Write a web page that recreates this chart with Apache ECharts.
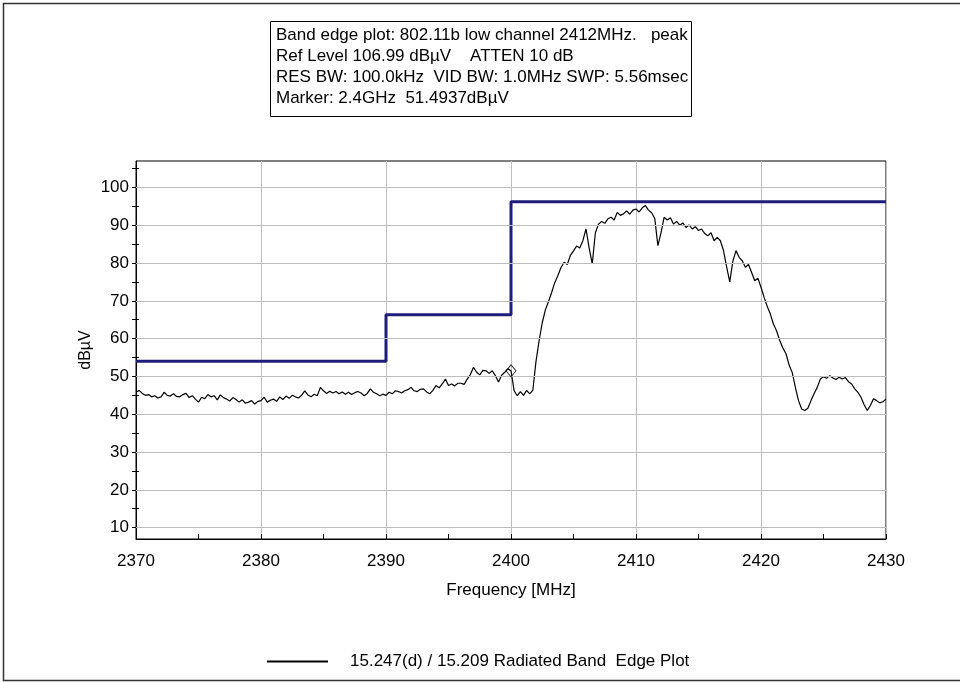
<!DOCTYPE html>
<html>
<head>
<meta charset="utf-8">
<title>Radiated Band Edge Plot</title>
<script src="https://cdn.jsdelivr.net/npm/echarts@6/dist/echarts.min.js"></script>
<style>
  html, body { margin: 0; padding: 0; background: #ffffff; }
  #chart { width: 960px; height: 683px; }
</style>
</head>
<body>
<div id="chart"></div>
<script>
// Analyzer sweep: 2370–2430 MHz, one reading every 0.25 MHz
const SWEEP_START_MHZ = 2370;
const SWEEP_STEP_MHZ = 0.25;

// Measured level (dBµV), four readings per MHz
const traceLevels = [
  45.8, 46.3, 45.5, 45.0,   // 2370
  45.2, 44.6, 44.9, 44.3,   // 2371
  44.6, 45.8, 45.0, 44.8,   // 2372
  45.4, 44.7, 44.6, 45.2,   // 2373
  45.5, 44.4, 44.9, 44.0,   // 2374
  43.2, 44.5, 44.1, 45.2,   // 2375
  44.6, 44.9, 43.8, 45.1,   // 2376
  44.4, 44.0, 43.5, 44.4,   // 2377
  43.9, 43.2, 43.8, 42.9,   // 2378
  43.2, 43.6, 42.7, 43.4,   // 2379
  43.6, 44.5, 43.2, 43.7,   // 2380
  44.0, 43.4, 44.6, 43.9,   // 2381
  44.8, 44.2, 45.0, 44.6,   // 2382
  44.3, 45.0, 46.2, 45.1,   // 2383
  44.6, 45.3, 44.9, 47.1,   // 2384
  46.2, 45.5, 46.1, 45.6,   // 2385
  46.0, 45.4, 45.9, 45.3,   // 2386
  45.8, 45.2, 45.7, 46.0,   // 2387
  45.6, 44.9, 45.5, 46.7,   // 2388
  45.8, 45.4, 44.9, 45.3,   // 2389
  45.0, 45.8, 45.4, 46.2,   // 2390
  46.0, 45.6, 46.2, 46.5,   // 2391
  47.1, 46.2, 46.0, 46.6,   // 2392
  46.7, 45.9, 45.4, 46.3,   // 2393
  47.6, 47.0, 48.0, 49.3,   // 2394
  47.6, 48.0, 47.5, 48.2,   // 2395
  48.2, 47.9, 49.3, 50.5,   // 2396
  52.4, 51.1, 50.4, 51.6,   // 2397
  51.5, 50.8, 51.5, 50.2,   // 2398
  48.5, 50.3, 51.1, 52.0,   // 2399
  51.5, 46.2, 44.9, 46.0,   // 2400
  45.0, 46.3, 45.4, 46.4,   // 2401
  54.0, 59.5, 64.2, 67.6,   // 2402
  69.8, 72.2, 74.8, 76.7,   // 2403
  78.8, 80.2, 79.6, 82.0,   // 2404
  83.2, 84.5, 84.0, 85.9,   // 2405
  89.0, 84.0, 79.8, 88.0,   // 2406
  90.3, 91.0, 90.5, 91.7,   // 2407
  92.1, 91.4, 93.4, 92.6,   // 2408
  93.0, 93.8, 92.9, 94.0,   // 2409
  94.3, 93.5, 94.6, 95.2,   // 2410
  94.0, 93.3, 91.8, 84.6,   // 2411
  88.0, 92.1, 91.4, 92.0,   // 2412
  90.3, 91.0, 90.0, 90.6,   // 2413
  89.4, 90.1, 89.0, 89.6,   // 2414
  88.6, 89.0, 87.8, 87.2,   // 2415
  88.0, 85.9, 86.8, 85.9,   // 2416
  83.3, 79.0, 75.0, 80.5,   // 2417
  83.3, 81.5, 80.6, 78.9,   // 2418
  79.6, 77.5, 75.3, 76.0,   // 2419
  73.6, 70.9, 68.5, 66.5,   // 2420
  63.8, 62.0, 59.5, 57.5,   // 2421
  56.0, 53.0, 51.0, 47.1,   // 2422
  43.6, 41.4, 41.0, 41.6,   // 2423
  43.6, 45.5, 47.1, 49.3,   // 2424
  49.9, 49.5, 50.2, 49.6,   // 2425
  49.2, 49.8, 49.3, 49.7,   // 2426
  48.6, 48.0, 46.7, 45.8,   // 2427
  44.5, 42.5, 41.0, 42.3,   // 2428
  44.1, 43.6, 43.0, 43.3,   // 2429
  44.0                      // 2430
];

// Stepped limit line
const limitFreqs  = [2370, 2390, 2390, 2400, 2400, 2430];
const limitLevels = [54.0, 54.0, 66.3, 66.3, 96.2, 96.2];

// Analyzer marker
const markerFreq = 2400;
const markerLevel = 51.4937;

// Axis ticks and range (reference level 106.99 dBµV, 100 dB span)
const xTickValues = [2370, 2380, 2390, 2400, 2410, 2420, 2430];
const yLabelValues = [10, 20, 30, 40, 50, 60, 70, 80, 90, 100];
const yTickValues = [10, 15, 20, 25, 30, 35, 40, 45, 50, 55, 60, 65, 70, 75, 80, 85, 90, 95, 100, 105];
const REF_LEVEL = 106.99;
const SPAN_DB = 100;

const headerLines = [
  'Band edge plot: 802.11b low channel 2412MHz.   peak',
  'Ref Level 106.99 dB\u00b5V    ATTEN 10 dB',
  'RES BW: 100.0kHz  VID BW: 1.0MHz SWP: 5.56msec',
  'Marker: 2.4GHz  51.4937dB\u00b5V'
];
const traceName = '15.247(d) / 15.209 Radiated Band  Edge Plot';

const FONT = '"Liberation Sans", Arial, sans-serif';

const tracePoints = traceLevels.map((v, i) => [SWEEP_START_MHZ + i * SWEEP_STEP_MHZ, v]);
const limitPoints = limitFreqs.map((f, i) => [f, limitLevels[i]]);

const chart = echarts.init(document.getElementById('chart'), null, { renderer: 'canvas' });

const yMin = REF_LEVEL - SPAN_DB;
const yMax = REF_LEVEL;

chart.setOption({
  animation: false,
  backgroundColor: '#ffffff',
  grid: {
    left: 136, right: 74, top: 161, bottom: 144,
    show: true, borderColor: '#000000', borderWidth: 1, backgroundColor: 'transparent'
  },
  legend: {
    left: 262, top: 648,
    itemWidth: 61, itemHeight: 2,
    data: [{ name: traceName, icon: 'rect' }],
    textStyle: { fontFamily: FONT, fontSize: 17, color: '#000', padding: [0, 0, 0, 17] },
    selectedMode: false
  },
  xAxis: {
    type: 'value',
    min: 2370, max: 2430, interval: 10,
    name: 'Frequency [MHz]', nameLocation: 'middle', nameGap: 43,
    nameTextStyle: { fontFamily: FONT, fontSize: 17, color: '#000' },
    axisLine: { show: true, lineStyle: { color: '#000', width: 1 } },
    axisTick: { show: true, inside: true, length: 5, lineStyle: { color: '#000' } },
    minorTick: { show: true, splitNumber: 2, length: 5, lineStyle: { color: '#000' } },
    axisLabel: { fontFamily: FONT, fontSize: 17, color: '#000', margin: 14,
      formatter: v => (xTickValues.indexOf(v) >= 0 ? String(v) : '') },
    splitLine: { show: true, lineStyle: { color: '#bdbdbd', width: 1 } }
  },
  yAxis: [
    {
      type: 'value',
      min: yMin, max: yMax,
      name: 'dB\u00b5V', nameLocation: 'middle', nameGap: 42, nameRotate: 90,
      nameMoveOverlap: false,
      nameTextStyle: { fontFamily: FONT, fontSize: 16, color: '#000' },
      axisLine: { show: true, lineStyle: { color: '#000', width: 1 } },
      axisTick: { show: true, inside: false, length: 4, customValues: yTickValues, lineStyle: { color: '#000' } },
      axisLabel: { fontFamily: FONT, fontSize: 17, color: '#000', margin: 7, customValues: yLabelValues },
      splitLine: { show: false }
    },
    {
      // inner half of the crossing tick marks on the left edge
      type: 'value',
      position: 'right', offset: -750,
      min: yMin, max: yMax,
      axisLine: { show: false },
      axisTick: { show: true, inside: false, length: 3, customValues: yTickValues, lineStyle: { color: '#000' } },
      axisLabel: { show: false },
      splitLine: { show: false }
    }
  ],
  series: [
    {
      name: 'grid',
      type: 'line',
      data: [],
      silent: true,
      z: 1,
      markLine: {
        silent: true,
        symbol: 'none',
        label: { show: false },
        lineStyle: { color: '#bdbdbd', type: 'solid', width: 1 },
        data: yLabelValues.map(v => ({ yAxis: v }))
      }
    },
    {
      name: traceName,
      type: 'line',
      data: tracePoints,
      showSymbol: false,
      symbol: 'none',
      color: '#000000',
      lineStyle: { color: '#000000', width: 1.2 },
      z: 3
    },
    {
      name: 'limit',
      type: 'line',
      data: limitPoints,
      showSymbol: false,
      symbol: 'none',
      lineStyle: { color: '#1e1e7a', width: 3 },
      z: 4
    },
    {
      name: 'marker',
      type: 'scatter',
      data: [[markerFreq, markerLevel]],
      symbol: 'diamond',
      symbolSize: [10, 12],
      itemStyle: { color: 'rgba(255,255,255,0)', borderColor: '#000', borderWidth: 1 },
      z: 5
    }
  ],
  graphic: [
    {
      type: 'rect',
      shape: { x: 3.5, y: 3.5, width: 970, height: 677 },
      style: { fill: 'none', stroke: '#333', lineWidth: 1.5 },
      silent: true
    },
    {
      type: 'rect',
      shape: { x: 270.5, y: 21.5, width: 421, height: 95 },
      style: { fill: '#fff', stroke: '#000', lineWidth: 1 },
      silent: true
    }
  ].concat(headerLines.map((t, i) => ({
    type: 'text',
    x: 276, y: 35 + i * 21,
    style: { text: t, font: '17px ' + FONT, fill: '#000', textVerticalAlign: 'middle' },
    silent: true
  })))
});
</script>
</body>
</html>
